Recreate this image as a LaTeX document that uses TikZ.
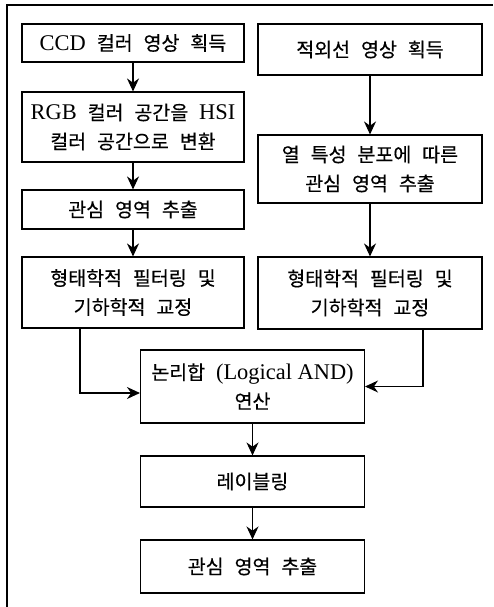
\documentclass[tikz,border=0pt]{standalone}
\usepackage{fontspec}
\setmainfont{Liberation Serif}[Scale=1.15]
\newfontfamily\kr{Noto Sans CJK KR}[WordSpace=2.5,FakeBold=0.4]
\usetikzlibrary{arrows.meta}
\newcommand\lat[1]{{\rmfamily #1}}
\begin{document}
\begin{tikzpicture}[x=1pt,y=-1pt,
  box/.style={draw,line width=1.1pt,inner sep=0pt,align=center,
    font=\kr\fontsize{19.5}{29}\selectfont},
  lbox/.style={box,minimum width=222pt},
  rbox/.style={box,minimum width=224pt},
  cbox/.style={box,minimum width=224pt},
  arr/.style={line width=1.1pt,-{Stealth[length=13pt,width=12pt]}},
  frame/.style={line width=1.8pt}]
\useasboundingbox (0,0) rectangle (493,607);
\draw[frame] (7,607) -- (7,5) -- (493,5);
% left column
\node[lbox,minimum height=38pt] (b1) at (133,43) {\lat{CCD} 컬러 영상 획득};
\node[lbox,minimum height=70pt] (b2) at (133,127) {\lat{RGB} 컬러 공간을 \lat{HSI}\\컬러 공간으로 변환};
\node[lbox,minimum height=39pt] (b3) at (133,209.5) {관심 영역 추출};
\node[lbox,minimum height=71pt] (b4) at (133,292.5) {형태학적 필터링 및\\기하학적 교정};
% right column
\node[rbox,minimum height=51pt] (r1) at (370,49.5) {적외선 영상 획득};
\node[rbox,minimum height=68pt] (r2) at (370,169) {열 특성 분포에 따른\\관심 영역 추출};
\node[rbox,minimum height=72pt] (r3) at (370,293) {형태학적 필터링 및\\기하학적 교정};
% center
\node[cbox,minimum height=73pt] (and) at (252.5,386.5) {논리합 \lat{(Logical AND)}\\연산};
\node[cbox,minimum height=51pt] (lab) at (252.5,481.5) {레이블링};
\node[cbox,minimum height=53pt] (fin) at (252.5,566.5) {관심 영역 추출};
% arrows
\draw[arr] (b1) -- (b2);
\draw[arr] (b2) -- (b3);
\draw[arr] (b3) -- (b4);
\draw[arr] (r1) -- (r2);
\draw[arr] (r2) -- (r3);
\draw[arr] ([xshift=-53pt]b4.south) |- ([yshift=-6.5pt]and.west);
\draw[arr] ([xshift=53pt]r3.south) |- (and.east);
\draw[arr] (and) -- (lab);
\draw[arr] (lab) -- (fin);
\end{tikzpicture}
\end{document}
